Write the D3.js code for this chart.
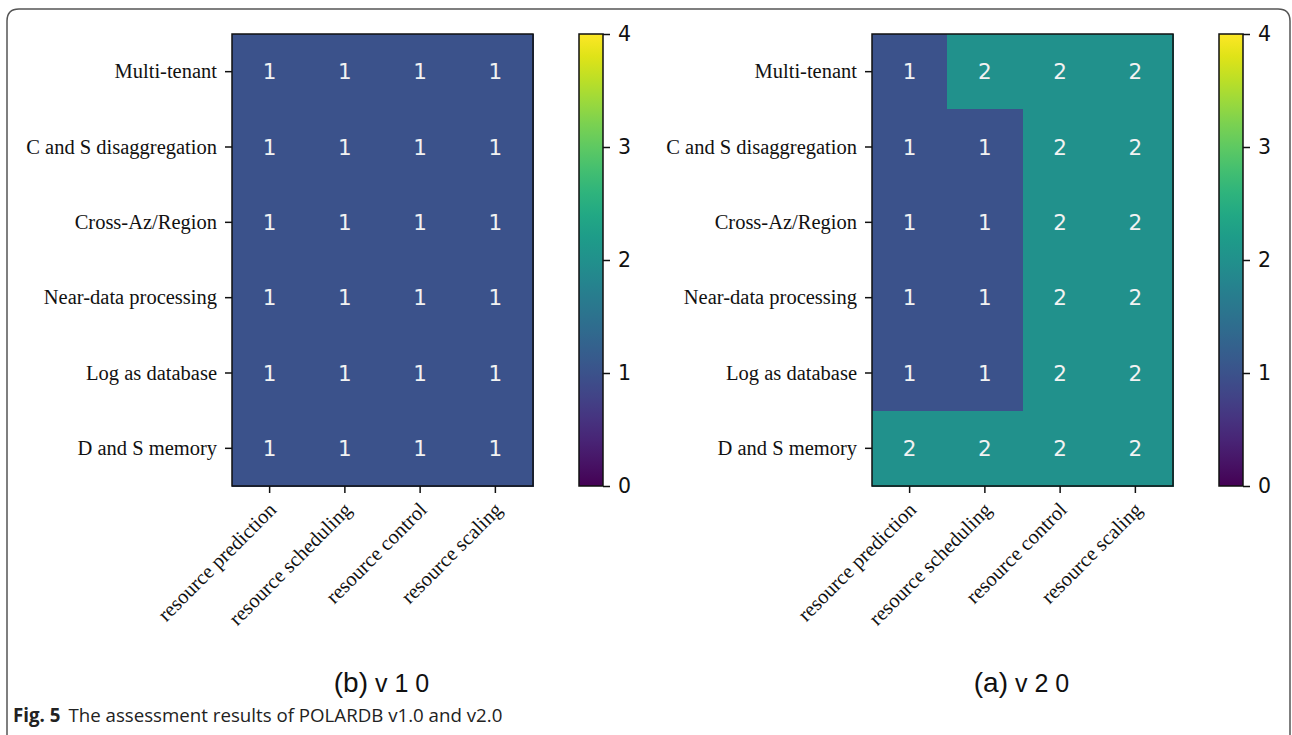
<!DOCTYPE html>
<html>
<head>
<meta charset="utf-8">
<script src="https://cdn.jsdelivr.net/npm/d3@7"></script>
<style>
  body { margin: 0; background: #fff; }
  svg { display: block; }
</style>
</head>
<body>
<svg id="fig" width="1292" height="735"></svg>
<script>
// data ***********************************************************************
var rowNames = ["Multi-tenant", "C and S disaggregation", "Cross-Az/Region", "Near-data processing", "Log as database", "D and S memory"]
var colNames = ["resource prediction", "resource scheduling", "resource control", "resource scaling"]

// scores for v1.0 (one array per row)
var scoresV1 = [
  [1, 1, 1, 1],
  [1, 1, 1, 1],
  [1, 1, 1, 1],
  [1, 1, 1, 1],
  [1, 1, 1, 1],
  [1, 1, 1, 1]
]
// scores for v2.0
var scoresV2 = [
  [1, 2, 2, 2],
  [1, 1, 2, 2],
  [1, 1, 2, 2],
  [1, 1, 2, 2],
  [1, 1, 2, 2],
  [2, 2, 2, 2]
]
var colorTicks = [0, 1, 2, 3, 4]
var panelTitles = [["(b)", "v 1 0"], ["(a)", "v 2 0"]]
var figCaption = "The assessment results of POLARDB v1.0 and v2.0"

var svg = d3.select("#fig")

// outer frame of the figure, open at the bottom
svg.append("path")
  .attr("d", "M7,740 L7,21 Q7,9 19,9 L1278,9 Q1290,9 1290,21 L1290,740")
  .style("fill", "none")
  .style("stroke", "#555")
  .style("stroke-width", 1.5)

var color = d3.scaleSequential(d3.interpolateViridis).domain([0, 4])

// gradient for the colour bars
var grad = svg.append("defs").append("linearGradient")
  .attr("id", "viridis")
  .attr("x1", 0).attr("y1", 1).attr("x2", 0).attr("y2", 0)
d3.range(0, 1.0001, 0.05).forEach(function (t) {
  grad.append("stop").attr("offset", t).attr("stop-color", d3.interpolateViridis(t))
})

var plotTop = 34, hmW = 301, hmH = 452

function drawPanel(left, cbLeft, scores, title) {
  var g = svg.append("g")
  var x = d3.scaleBand().domain(colNames).range([left, left + hmW])
  var y = d3.scaleBand().domain(rowNames).range([plotTop, plotTop + hmH])

  // cells
  rowNames.forEach(function (r, i) {
    colNames.forEach(function (c, j) {
      g.append("rect")
        .attr("x", x(c)).attr("y", y(r))
        .attr("width", x.bandwidth() + 1).attr("height", y.bandwidth() + 1)
        .attr("shape-rendering", "crispEdges")
        .style("fill", color(scores[i][j]))
    })
  })
  rowNames.forEach(function (r, i) {
    colNames.forEach(function (c, j) {
      g.append("text")
        .attr("x", x(c) + x.bandwidth() / 2)
        .attr("y", y(r) + y.bandwidth() / 2)
        .attr("text-anchor", "middle")
        .attr("dominant-baseline", "central")
        .style("font-family", "DejaVu Sans")
        .style("font-size", "21.5px")
        .style("fill", "#f2f2f2")
        .text(scores[i][j])
    })
  })
  g.append("rect")
    .attr("x", left).attr("y", plotTop).attr("width", hmW).attr("height", hmH)
    .style("fill", "none").style("stroke", "#111").style("stroke-width", 1.5)

  // y axis
  var yAx = g.append("g").attr("transform", "translate(" + left + ",0)")
    .call(d3.axisLeft(y).tickSize(7).tickPadding(8))
  yAx.select(".domain").remove()
  yAx.selectAll("line").style("stroke", "#111").style("stroke-width", 1.5)
  yAx.selectAll("text")
    .style("font-family", "Liberation Serif")
    .style("font-size", "20.5px")
    .style("fill", "#111")

  // x axis with rotated labels
  var xAx = g.append("g").attr("transform", "translate(0," + (plotTop + hmH) + ")")
    .call(d3.axisBottom(x).tickSize(7))
  xAx.select(".domain").remove()
  xAx.selectAll("line").style("stroke", "#111").style("stroke-width", 1.5)
  xAx.selectAll("text")
    .attr("y", 0).attr("dy", 0)
    .attr("text-anchor", "end")
    .attr("transform", "translate(8,25) rotate(-45)")
    .style("font-family", "Liberation Serif")
    .style("font-size", "20.5px")
    .style("fill", "#111")

  // colour bar
  var cbW = 24
  var cy = d3.scaleLinear().domain([0, 4]).range([plotTop + hmH, plotTop])
  g.append("rect")
    .attr("x", cbLeft).attr("y", plotTop).attr("width", cbW).attr("height", hmH)
    .style("fill", "url(#viridis)")
    .style("stroke", "#111").style("stroke-width", 1.5)
  var cAx = g.append("g").attr("transform", "translate(" + (cbLeft + cbW) + ",0)")
    .call(d3.axisRight(cy).tickValues(colorTicks).tickFormat(d3.format("d")).tickSize(7).tickPadding(8))
  cAx.select(".domain").remove()
  cAx.selectAll("line").style("stroke", "#111").style("stroke-width", 1.5)
  cAx.selectAll("text")
    .style("font-family", "DejaVu Sans")
    .style("font-size", "20.5px")
    .style("fill", "#111")

  // panel title
  var t = g.append("text")
    .attr("x", left + hmW / 2 - 1).attr("y", 692)
    .attr("text-anchor", "middle")
    .style("font-family", "Liberation Sans")
    .style("fill", "#111")
  t.append("tspan").style("font-size", "28px").text(title[0])
  t.append("tspan").style("font-size", "25px").text(" " + title[1])
}

drawPanel(232, 579, scoresV1, panelTitles[0])
drawPanel(872, 1219, scoresV2, panelTitles[1])

// figure caption
var cap = svg.append("text")
  .attr("x", 13).attr("y", 722)
  .style("font-family", "Open Sans")
  .style("font-size", "18.7px")
  .style("fill", "#222")
cap.append("tspan").style("font-weight", "bold").text("Fig. 5")
cap.append("tspan").attr("dx", 8).text(figCaption)
</script>
</body>
</html>
